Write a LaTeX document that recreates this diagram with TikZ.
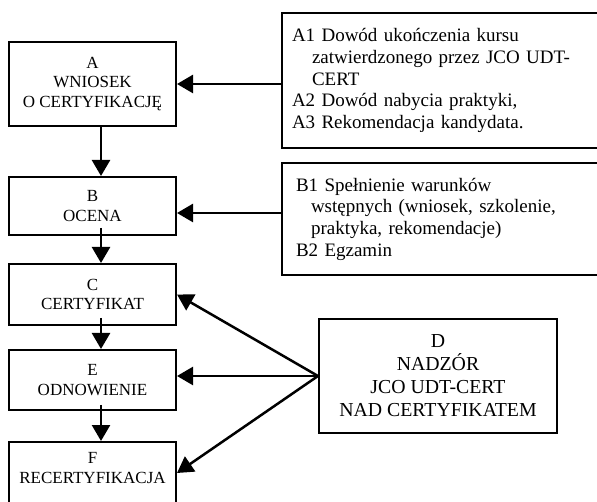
\documentclass[tikz,border=0pt]{standalone}
\usepackage{fontspec}
\setmainfont{Liberation Serif}
\usetikzlibrary{arrows.meta, positioning, calc}

\begin{document}
\begin{tikzpicture}[
        x=1pt, y=1pt,
        stage/.style={rectangle, draw, line width=2pt, minimum width=167pt, inner sep=0pt, align=center, font=\fontsize{17}{19.5}\selectfont},
        inputbox/.style={rectangle, draw, line width=2pt, text width=320pt, inner ysep=0pt, align=left, font=\fontsize{19}{21.7}\selectfont},
        arrow/.style={-{Triangle[length=16pt, width=18pt]}, line width=2.5pt}
    ]

    \useasboundingbox (0,0) rectangle (597,-502);

    % Main path A - B - C - E - F
    \node (A) [stage, minimum height=84pt] at (92.5,-84) {A\\WNIOSEK\\O CERTYFIKACJĘ};
    \node (B) [stage, minimum height=58pt, below=49pt of A] {B\\OCENA};
    \node (C) [stage, minimum height=61pt, below=27pt of B] {C\\CERTYFIKAT};
    \node (E) [stage, minimum height=60pt, below=23pt of C] {E\\ODNOWIENIE};
    \node (F) [stage, text height=41pt, text depth=21pt, below=30pt of E] {F\\RECERTYFIKACJA};
    \draw[arrow] ([xshift=8.5pt]A.south) -- ([xshift=8.5pt]B.north);
    \draw[arrow] ([xshift=8.5pt, yshift=8pt]B.south) -- ([xshift=8.5pt]C.north);
    \draw[arrow] ([xshift=8.5pt, yshift=8pt]C.south) -- ([xshift=8.5pt]E.north);
    \draw[arrow] ([xshift=8.5pt, yshift=6pt]E.south) -- ([xshift=8.5pt]F.north);

    % Inputs for A and B
    \node (A1) [inputbox, inner xsep=10pt, minimum height=135pt, right=104pt of A, yshift=3.5pt]
        {A1 Dowód ukończenia kursu\\\hspace*{20pt}zatwierdzonego przez JCO UDT-\\\hspace*{20pt}CERT\\A2 Dowód nabycia praktyki,\\A3 Rekomendacja kandydata.};
    \node (B1) [inputbox, inner xsep=14pt, minimum height=112pt, right=104pt of B, yshift=-13pt]
        {B1 Spełnienie warunków\\\hspace*{15pt}wstępnych (wniosek, szkolenie,\\\hspace*{15pt}praktyka, rekomendacje)\\B2 Egzamin};
    \draw[arrow] (A1.west |- A.east) -- (A.east);
    \draw[arrow] ($(B1.west |- B.east)+(0,-7)$) -- ($(B.east)+(0,-7)$);

    % Supervision D
    \node (D) [stage, minimum width=238pt, minimum height=113pt, font=\fontsize{19.8}{23}\selectfont, right=141pt of E, yshift=4pt]
        {D\\NADZÓR\\JCO UDT-CERT\\NAD CERTYFIKATEM};
    \draw[arrow] (D.west) -- (C.east);
    \draw[arrow] (D.west) -- (D.west -| E.east);
    \draw[arrow] (D.west) -- (F.east);

\end{tikzpicture}
\end{document}
